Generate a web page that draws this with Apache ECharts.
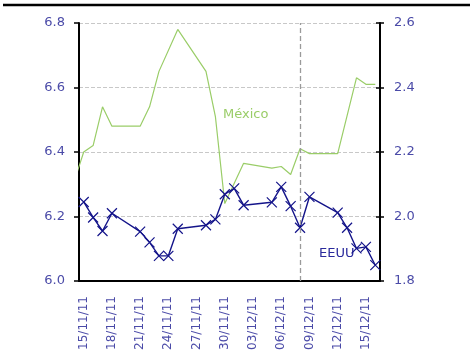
<!DOCTYPE html>
<html>
<head>
<meta charset="utf-8">
<script src="https://cdn.jsdelivr.net/npm/echarts@6/dist/echarts.min.js"></script>
<style>
  html, body { margin: 0; padding: 0; background: #fff; }
  #chart { width: 471px; height: 353px; }
</style>
</head>
<body>
<div id="chart"></div>
<script>
// Calendar days on the category axis (the first one sits just left of the visible range)
const days = [
  '14/11/11','15/11/11','16/11/11','17/11/11','18/11/11','19/11/11','20/11/11',
  '21/11/11','22/11/11','23/11/11','24/11/11','25/11/11','26/11/11','27/11/11',
  '28/11/11','29/11/11','30/11/11','01/12/11','02/12/11','03/12/11','04/12/11',
  '05/12/11','06/12/11','07/12/11','08/12/11','09/12/11','10/12/11','11/12/11',
  '12/12/11','13/12/11','14/12/11','15/12/11','16/12/11'
];

// México, left axis (%)
const mexico = [
  6.31, 6.40, 6.42, 6.54, 6.48, null, null,
  6.48, 6.54, 6.65, null, 6.78, null, null,
  6.65, 6.51, 6.24, null, 6.365, null, null,
  6.35, 6.355, 6.33, 6.41, 6.395, null, null,
  6.395, null, 6.63, 6.61, 6.61
];

// EEUU, right axis (%)
const eeuu = [
  null, 2.045, 1.997, 1.955, 2.010, null, null,
  1.953, 1.920, 1.878, 1.878, 1.962, null, null,
  1.973, 1.991, 2.069, 2.087, 2.035, null, null,
  2.044, 2.092, 2.032, 1.965, 2.061, null, null,
  2.012, 1.965, 1.901, 1.906, 1.849
];

const leftTicks = { min: 6.0, max: 6.8, step: 0.2 };
const rightTicks = { min: 1.8, max: 2.6, step: 0.2 };
const markerDay = '08/12/11';

const axisBlue = '#4b4ba8';
const green = '#9acd68';
const navy = '#14148a';
const font = 'DejaVu Sans';

const everyThird = (i) => (i - 1) % 3 === 0;

const chart = echarts.init(document.getElementById('chart'), null, { renderer: 'canvas' });

chart.setOption({
  animation: false,
  backgroundColor: '#fff',
  grid: { left: 79, top: 23, width: 301, height: 258, containLabel: false },
  xAxis: {
    type: 'category',
    data: days,
    min: 1,
    boundaryGap: true,
    axisLine: { lineStyle: { color: '#000', width: 2 } },
    axisTick: { interval: everyThird, length: 4, lineStyle: { color: '#000', width: 1.5 } },
    axisLabel: {
      interval: everyThird,
      rotate: 90,
      margin: 15,
      color: axisBlue,
      fontFamily: font,
      fontSize: 12
    },
    splitLine: { show: false }
  },
  yAxis: [
    {
      type: 'value',
      position: 'left',
      min: leftTicks.min, max: leftTicks.max, interval: leftTicks.step,
      axisLine: { show: true, lineStyle: { color: '#000', width: 2 } },
      axisTick: { show: true, length: 5, lineStyle: { color: '#000', width: 1.5 } },
      axisLabel: { margin: 14, color: axisBlue, fontFamily: font, fontSize: 13,
                   formatter: (v) => v.toFixed(1) },
      splitLine: { show: true, lineStyle: { color: '#c8c8c8', type: [4, 2], width: 1 } }
    },
    {
      type: 'value',
      position: 'right',
      min: rightTicks.min, max: rightTicks.max, interval: rightTicks.step,
      axisLine: { show: true, lineStyle: { color: '#000', width: 2 } },
      axisTick: { show: true, length: 4, lineStyle: { color: '#000', width: 1.5 } },
      axisLabel: { margin: 14, color: axisBlue, fontFamily: font, fontSize: 13,
                   formatter: (v) => v.toFixed(1) },
      splitLine: { show: false }
    },
    {
      // inner half of the crossing ticks on the right axis
      type: 'value',
      position: 'right',
      min: rightTicks.min, max: rightTicks.max, interval: rightTicks.step,
      axisLine: { show: false },
      axisTick: { show: true, inside: true, length: 4, lineStyle: { color: '#000', width: 1.5 } },
      axisLabel: { show: false },
      splitLine: { show: false }
    }
  ],
  series: [
    {
      name: 'México',
      type: 'line',
      yAxisIndex: 0,
      data: mexico,
      connectNulls: true,
      showSymbol: false,
      clip: true,
      lineStyle: { color: green, width: 1.2 },
      itemStyle: { color: green },
      markLine: {
        silent: true,
        symbol: ['none', 'none'],
        label: { show: false },
        lineStyle: { color: '#9a9a9a', type: [5, 3], width: 1.3 },
        data: [{ xAxis: markerDay }]
      },
      z: 2
    },
    {
      name: 'EEUU',
      type: 'line',
      yAxisIndex: 1,
      data: eeuu,
      connectNulls: true,
      showSymbol: true,
      showAllSymbol: true,
      symbol: 'path://M0 0L10 10M10 0L0 10',
      symbolSize: 10,
      clip: true,
      lineStyle: { color: navy, width: 1.4 },
      itemStyle: { color: 'rgba(0,0,0,0)', borderColor: navy, borderWidth: 1.2 },
      z: 3
    }
  ],
  graphic: [
    {
      type: 'line',
      shape: { x1: 3, y1: 5, x2: 470, y2: 5 },
      style: { stroke: '#000', lineWidth: 2.5 }
    },
    {
      type: 'text',
      left: 223, top: 108,
      style: { text: 'México', fill: green, font: '13px "DejaVu Sans"' }
    },
    {
      type: 'text',
      left: 319, top: 247,
      style: { text: 'EEUU', fill: '#2a2a9c', font: '13px "DejaVu Sans"' }
    }
  ]
});
</script>
</body>
</html>
